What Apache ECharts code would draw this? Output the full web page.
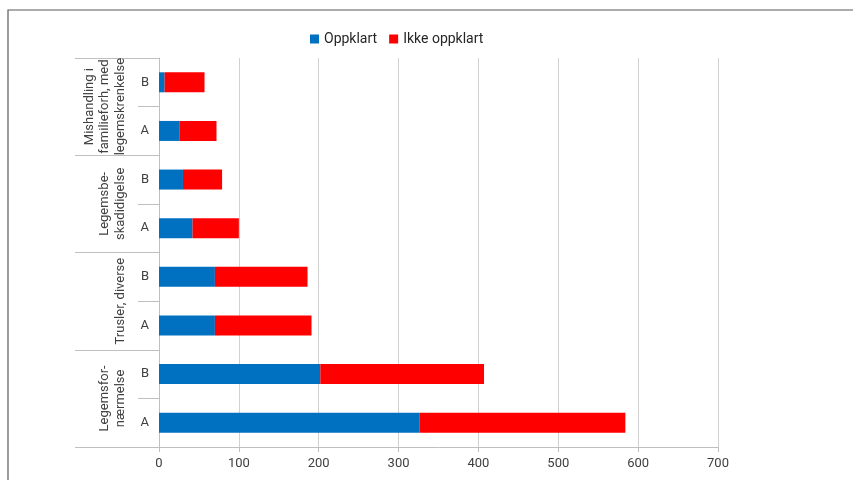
<!DOCTYPE html>
<html>
<head>
<meta charset="utf-8">
<script src="https://cdn.jsdelivr.net/npm/echarts@6/dist/echarts.min.js"></script>
<style>
  html, body { margin: 0; padding: 0; background: #fff; }
  #chart { width: 853px; height: 480px; }
</style>
</head>
<body>
<div id="chart"></div>
<script>
// Rows, bottom to top: each offence group has an A and a B row
const rowLabels = ['A', 'B', 'A', 'B', 'A', 'B', 'A', 'B'];
const groupLabels = [
  'Legemsfor-\nnærmelse',
  'Trusler, diverse',
  'Legemsbe-\nskadidigelse',
  'Mishandling i\nfamilieforh, med\nlegemskrenkelse'
];
const oppklart = [326, 202, 70, 70, 42, 30, 26, 7];
const ikkeOppklart = [258, 205, 121, 116, 58, 49, 46, 50];
const xTicks = [0, 100, 200, 300, 400, 500, 600, 700];

const axisGrey = '#bfbfbf';
const textColor = '#404040';
const font = 'Roboto, "Liberation Sans", sans-serif';

const chart = echarts.init(document.getElementById('chart'), null, { renderer: 'canvas' });

chart.setOption({
  animation: false,
  backgroundColor: '#ffffff',
  textStyle: { fontFamily: font },
  graphic: [{
    type: 'rect',
    shape: { x: 8, y: 10, width: 900, height: 520 },
    style: { fill: 'none', stroke: '#5a5a5a', lineWidth: 1.2 },
    silent: true
  }],
  legend: {
    top: 27,
    left: 305,
    itemWidth: 9,
    itemHeight: 9,
    itemGap: 12,
    icon: 'rect',
    textStyle: { fontSize: 14, color: '#262626', fontFamily: font },
    data: ['Oppklart', 'Ikke oppklart']
  },
  grid: { left: 159, right: 135, top: 58, bottom: 33, containLabel: false },
  xAxis: {
    type: 'value',
    min: xTicks[0],
    max: xTicks[xTicks.length - 1],
    interval: 100,
    axisLine: { show: true, lineStyle: { color: axisGrey, width: 1 } },
    axisTick: { show: true, length: 5, lineStyle: { color: axisGrey } },
    axisLabel: { color: textColor, fontSize: 13, margin: 10, fontFamily: font },
    splitLine: { show: true, lineStyle: { color: '#d0d0d0', width: 1 } }
  },
  yAxis: [
    {
      type: 'category',
      data: rowLabels,
      position: 'left',
      axisLine: { show: true, lineStyle: { color: axisGrey, width: 1 } },
      axisTick: { show: true, length: 21, lineStyle: { color: axisGrey } },
      axisLabel: { color: textColor, fontSize: 13, margin: 10, fontFamily: font }
    },
    {
      type: 'category',
      data: groupLabels,
      position: 'left',
      offset: 0,
      axisLine: { show: false },
      axisTick: { show: true, length: 84, lineStyle: { color: axisGrey } },
      axisLabel: {
        color: textColor,
        fontSize: 13,
        rotate: 90,
        margin: 31,
        lineHeight: 15.5,
        interval: 0,
        fontFamily: font
      },
      splitLine: { show: false }
    }
  ],
  series: [
    {
      name: 'Oppklart',
      type: 'bar',
      stack: 'total',
      yAxisIndex: 0,
      barWidth: 20,
      itemStyle: { color: '#0070c0' },
      data: oppklart
    },
    {
      name: 'Ikke oppklart',
      type: 'bar',
      stack: 'total',
      yAxisIndex: 0,
      barWidth: 20,
      itemStyle: { color: '#ff0000' },
      data: ikkeOppklart
    }
  ]
});
</script>
</body>
</html>
